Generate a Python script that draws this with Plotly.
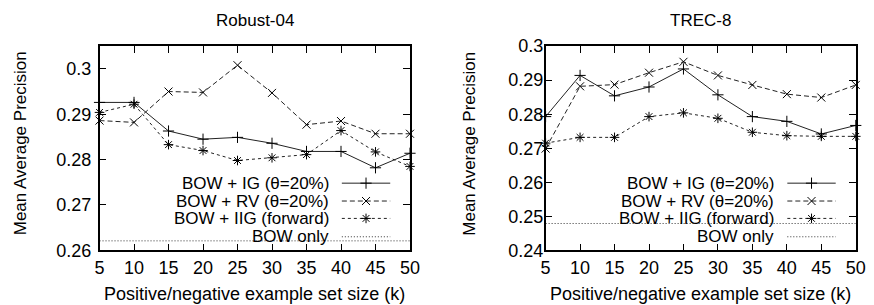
import plotly.graph_objects as go

# ---------------- data ----------------
k = [5, 10, 15, 20, 25, 30, 35, 40, 45, 50]

robust_ig = [0.2926, 0.2926, 0.2863, 0.2845, 0.2849, 0.2836, 0.2818, 0.2818, 0.2782, 0.2814]
robust_rv = [0.2886, 0.2882, 0.2950, 0.2948, 0.3008, 0.2947, 0.2877, 0.2885, 0.2857, 0.2857]
robust_iig = [0.2904, 0.2922, 0.2833, 0.2820, 0.2798, 0.2804, 0.2811, 0.2864, 0.2817, 0.2785]
robust_bow = 0.2621

trec_ig = [0.2793, 0.2914, 0.2854, 0.2880, 0.2933, 0.2857, 0.2793, 0.2779, 0.2742, 0.2767]
trec_rv = [0.2699, 0.2882, 0.2887, 0.2922, 0.2954, 0.2914, 0.2886, 0.2859, 0.2849, 0.2886]
trec_iig = [0.2715, 0.2732, 0.2732, 0.2793, 0.2804, 0.2788, 0.2747, 0.2737, 0.2735, 0.2735]
trec_bow = 0.2479

x_ticks = [5, 10, 15, 20, 25, 30, 35, 40, 45, 50]
robust_yticks = [0.26, 0.27, 0.28, 0.29, 0.30]
robust_ylabels = ["0.26", "0.27", "0.28", "0.29", "0.3"]
trec_yticks = [0.24, 0.25, 0.26, 0.27, 0.28, 0.29, 0.30]
trec_ylabels = ["0.24", "0.25", "0.26", "0.27", "0.28", "0.29", "0.3"]

series_names = ["BOW + IG (\u03b8=20%)", "BOW + RV (\u03b8=20%)", "BOW + IIG (forward)", "BOW only"]
titles = ["Robust-04", "TREC-8"]
x_title = "Positive/negative example set size (k)"
y_title = "Mean Average Precision"

# ---------------- layout helpers ----------------
W, H = 874, 314


def LX(o):
    return (o - 2.0) / 0.995


def LY(o):
    return (o - 8.6) / 0.943


def px(o):
    return LX(o) / W


def py(o):
    return 1 - LY(o) / H


FONT = "Liberation Sans, Arial, sans-serif"
FS_TICK = 18
FS_TITLE = 17
FS_XT = 18
FS_YT = 17
FS_KEY = 17
styles = [
    dict(dash="solid", symbol="cross-thin", color="#222222"),
    dict(dash="5px,3px", symbol="x-thin", color="#222222"),
    dict(dash="3px,3px", symbol="asterisk", color="#222222"),
    dict(dash="1px,2px", symbol=None, color="#333333"),
]

# panel boxes (left, right, top, bottom) as seen in the target picture
panels = [(97.7, 412.0, 45.0, 250.7), (549.3, 863.3, 45.0, 250.7)]
ylab_standoff = [3, -3]

fig = go.Figure()

datasets = [
    (robust_ig, robust_rv, robust_iig, robust_bow, [0.26, 0.305], robust_yticks, robust_ylabels),
    (trec_ig, trec_rv, trec_iig, trec_bow, [0.24, 0.30], trec_yticks, trec_ylabels),
]

for i, (ig, rv, iig, bow, yr, yt, yl) in enumerate(datasets):
    xa = "x" if i == 0 else "x2"
    ya = "y" if i == 0 else "y2"
    for j, ys in enumerate([ig, rv, iig]):
        st = styles[j]
        fig.add_trace(go.Scatter(
            x=k, y=ys, xaxis=xa, yaxis=ya, mode="lines+markers",
            line=dict(color=st["color"], width=1, dash=st["dash"]),
            marker=dict(symbol=st["symbol"], size=8, color="black",
                        line=dict(color="black", width=1)),
            showlegend=False, cliponaxis=False))
    st = styles[3]
    fig.add_trace(go.Scatter(
        x=[k[0], k[-1]], y=[bow, bow], xaxis=xa, yaxis=ya, mode="lines",
        line=dict(color=st["color"], width=1, dash=st["dash"]),
        showlegend=False))

    L, R, T, B = panels[i]
    axis_common = dict(showgrid=False, zeroline=False, showline=True, linecolor="black",
                       linewidth=1.5, mirror="ticks", ticks="inside", ticklen=7,
                       tickwidth=1, tickcolor="black",
                       tickfont=dict(family=FONT, size=FS_TICK, color="black"))
    xkey = "xaxis" if i == 0 else "xaxis2"
    ykey = "yaxis" if i == 0 else "yaxis2"
    fig.update_layout(**{
        xkey: dict(domain=[px(L), px(R)], range=[5, 50], tickvals=x_ticks,
                   anchor=ya, ticklabelstandoff=0, **axis_common),
        ykey: dict(domain=[py(B), py(T)], range=yr, tickvals=yt, ticktext=yl,
                   anchor=xa, ticklabelstandoff=ylab_standoff[i], **axis_common),
    })

    cx = (L + R) / 2
    fig.add_annotation(x=px(cx), y=py(19), xref="paper", yref="paper", text=titles[i],
                       showarrow=False, font=dict(family=FONT, size=FS_TITLE, color="black"),
                       xanchor="center", yanchor="middle")
    fig.add_annotation(x=px(cx), y=py(295), xref="paper", yref="paper", text=x_title,
                       showarrow=False, font=dict(family=FONT, size=FS_XT, color="black"),
                       xanchor="center", yanchor="middle")
    ytx = 18 if i == 0 else 472
    fig.add_annotation(x=px(ytx), y=py(143), xref="paper", yref="paper", text=y_title,
                       showarrow=False, textangle=-90,
                       font=dict(family=FONT, size=FS_YT, color="black"),
                       xanchor="center", yanchor="middle")

    # gnuplot-style key: text right aligned, sample line on the right
    text_right = 332 if i == 0 else 783
    s0 = text_right + 11
    s1 = s0 + 49
    rows = [183, 201, 218.5, 237]
    for j, name in enumerate(series_names):
        fig.add_annotation(x=px(text_right), y=py(rows[j]), xref="paper", yref="paper",
                           text=name, showarrow=False,
                           font=dict(family=FONT, size=FS_KEY, color="black"),
                           xanchor="right", yanchor="middle")
        st = styles[j]
        fig.add_trace(go.Scatter(
            x=[LX(s0), LX(s1)], y=[LY(rows[j]), LY(rows[j])], xaxis="x3", yaxis="y3",
            mode="lines", line=dict(color=st["color"], width=1, dash=st["dash"]),
            showlegend=False, hoverinfo="skip", cliponaxis=False))
        if st["symbol"]:
            fig.add_trace(go.Scatter(
                x=[LX((s0 + s1) / 2)], y=[LY(rows[j])], xaxis="x3", yaxis="y3", mode="markers",
                marker=dict(symbol=st["symbol"], size=8, color="black",
                            line=dict(color="black", width=1)),
                showlegend=False, hoverinfo="skip", cliponaxis=False))

fig.update_layout(
    xaxis3=dict(domain=[0, 1], range=[0, W], visible=False, anchor="y3"),
    yaxis3=dict(domain=[0, 1], range=[H, 0], visible=False, anchor="x3"),
    width=W, height=H, margin=dict(l=0, r=0, t=0, b=0),
    paper_bgcolor="white", plot_bgcolor="rgba(0,0,0,0)",
    showlegend=False,
)

fig.write_html("out.html", config={"displayModeBar": False},
               post_script="document.body.style.margin='0';document.body.style.overflow='hidden';")
